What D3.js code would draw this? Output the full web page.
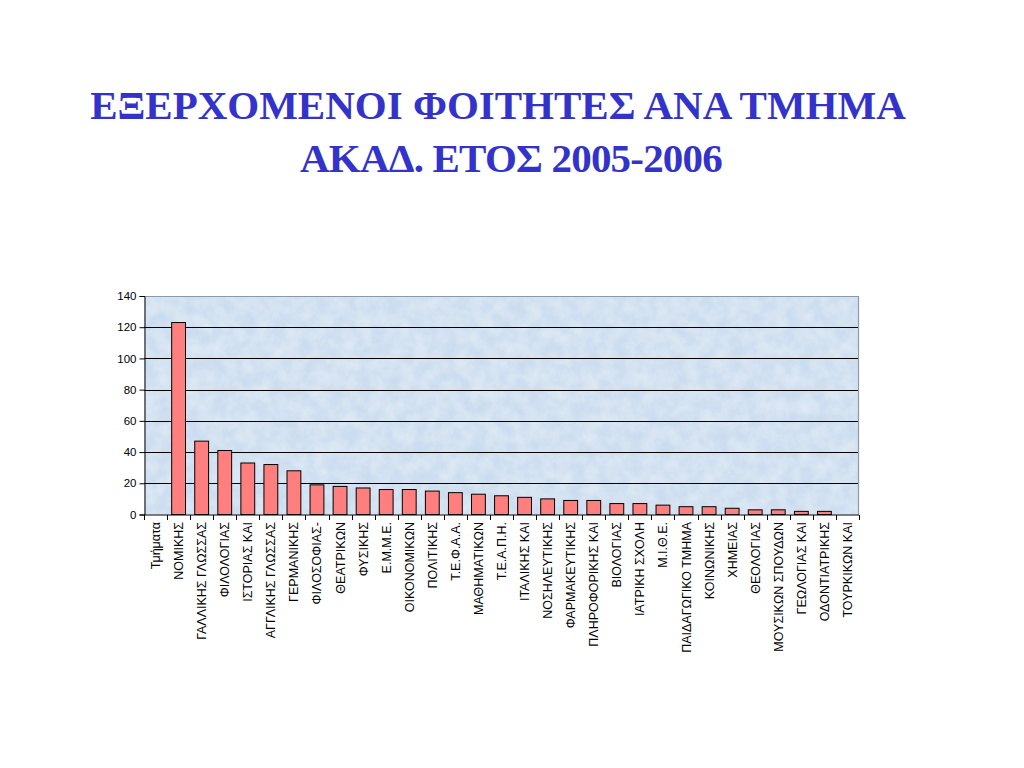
<!DOCTYPE html>
<html><head><meta charset="utf-8">
<script src="https://cdn.jsdelivr.net/npm/d3@7"></script>
<style>body{margin:0;background:#fff}svg{display:block}</style>
</head><body>
<svg id="c" width="1024" height="768"></svg>
<script>
const titleLines = ["ΕΞΕΡΧΟΜΕΝΟΙ ΦΟΙΤΗΤΕΣ ΑΝΑ ΤΜΗΜΑ", "ΑΚΑΔ. ΕΤΟΣ 2005-2006"];
const categories = ["Τμήματα","ΝΟΜΙΚΗΣ","ΓΑΛΛΙΚΗΣ ΓΛΩΣΣΑΣ","ΦΙΛΟΛΟΓΙΑΣ","ΙΣΤΟΡΙΑΣ ΚΑΙ","ΑΓΓΛΙΚΗΣ ΓΛΩΣΣΑΣ","ΓΕΡΜΑΝΙΚΗΣ","ΦΙΛΟΣΟΦΙΑΣ-","ΘΕΑΤΡΙΚΩΝ","ΦΥΣΙΚΗΣ","Ε.Μ.Μ.Ε.","ΟΙΚΟΝΟΜΙΚΩΝ","ΠΟΛΙΤΙΚΗΣ","Τ.Ε.Φ.Α.Α.","ΜΑΘΗΜΑΤΙΚΩΝ","Τ.Ε.Α.Π.Η.","ΙΤΑΛΙΚΗΣ ΚΑΙ","ΝΟΣΗΛΕΥΤΙΚΗΣ","ΦΑΡΜΑΚΕΥΤΙΚΗΣ","ΠΛΗΡΟΦΟΡΙΚΗΣ ΚΑΙ","ΒΙΟΛΟΓΙΑΣ","ΙΑΤΡΙΚΗ ΣΧΟΛΗ","Μ.Ι.Θ.Ε.","ΠΑΙΔΑΓΩΓΙΚΟ ΤΜΗΜΑ","ΚΟΙΝΩΝΙΚΗΣ","ΧΗΜΕΙΑΣ","ΘΕΟΛΟΓΙΑΣ","ΜΟΥΣΙΚΩΝ ΣΠΟΥΔΩΝ","ΓΕΩΛΟΓΙΑΣ ΚΑΙ","ΟΔΟΝΤΙΑΤΡΙΚΗΣ","ΤΟΥΡΚΙΚΩΝ ΚΑΙ"];
const values = [null,123,47,41,33,32,28,19,18,17,16,16,15,14,13,12,11,10,9,9,7,7,6,5,5,4,3,3,2,2,0];
const yTicks = [0,20,40,60,80,100,120,140];

const svg = d3.select("#c");
const m = {left:144, right:859, top:296, bottom:514.5};

const t = svg.append("g");
const titleX = [498, 511];
const titleSpacing = [0, -0.8];
titleLines.forEach((s,i)=>{
  t.append("text").attr("x",titleX[i]).attr("y",119+i*53).attr("text-anchor","middle")
   .attr("font-family","'Liberation Serif','Times New Roman',serif").attr("font-weight","bold")
   .attr("letter-spacing",titleSpacing[i])
   .attr("font-size",41).attr("fill","#3333cc").text(s);
});

const x = d3.scaleBand().domain(categories).range([m.left,m.right]).paddingInner(0.4).paddingOuter(0.2);
const xb = d3.scaleBand().domain(categories).range([m.left,m.right]);
const y = d3.scaleLinear().domain([0,140]).range([m.bottom,m.top]);

const defs = svg.append("defs");
const f = defs.append("filter").attr("id","tex").attr("x",0).attr("y",0).attr("width",1).attr("height",1);
f.append("feTurbulence").attr("type","fractalNoise").attr("baseFrequency",0.07).attr("numOctaves",3).attr("seed",3).attr("result","n");
f.append("feColorMatrix").attr("in","n").attr("type","matrix")
 .attr("values","0 0 0 0 1  0 0 0 0 1  0 0 0 0 1  0 0 0 0.5 -0.1").attr("result","w");
f.append("feComposite").attr("in","w").attr("in2","SourceGraphic").attr("operator","atop");

svg.append("rect").attr("x",m.left).attr("y",m.top).attr("width",m.right-m.left).attr("height",m.bottom-m.top)
  .attr("fill","#cadcef").attr("filter","url(#tex)");

// gridlines
svg.append("g").selectAll("line").data(yTicks.filter(d=>d>0 && d<140)).join("line")
  .attr("x1",m.left).attr("x2",m.right).attr("y1",d=>Math.round(y(d))+0.5).attr("y2",d=>Math.round(y(d))+0.5)
  .attr("stroke","#000").attr("stroke-width",1);

// top/right border
svg.append("path").attr("d",`M${m.left},${m.top+0.5}H${m.right-0.5}V${m.bottom}`).attr("fill","none").attr("stroke","#8c9aa8").attr("stroke-width",1.2);

// bars
svg.append("g").selectAll("rect").data(categories.map((c,i)=>({c,v:values[i]})).filter(d=>d.v!=null && d.v>0)).join("rect")
  .attr("x",d=>x(d.c)).attr("width",x.bandwidth())
  .attr("y",d=>y(d.v)).attr("height",d=>y(0)-y(d.v))
  .attr("fill","#ff7f7f").attr("stroke","#000").attr("stroke-width",1);

// y axis
const ya = svg.append("g").attr("transform",`translate(${m.left+0.5},0)`)
  .call(d3.axisLeft(y).tickValues(yTicks).tickSize(5).tickPadding(3));
ya.selectAll("text").attr("font-family","'Liberation Sans',Arial,sans-serif").attr("font-size",11.5).attr("fill","#000");
ya.selectAll("line,path").attr("stroke","#000");

// x axis
const xa = svg.append("g").attr("transform",`translate(0,${m.bottom+0.5})`);
xa.append("line").attr("x1",m.left).attr("x2",m.right).attr("stroke","#000");
xa.selectAll("line.t").data(categories.concat(["__end"])).join("line").attr("class","t")
  .attr("x1",(d,i)=>Math.round(m.left+i*xb.step())+0.5).attr("x2",(d,i)=>Math.round(m.left+i*xb.step())+0.5)
  .attr("y1",0).attr("y2",5).attr("stroke","#000");
xa.selectAll("text").data(categories).join("text")
  .attr("transform",d=>`translate(${xb(d)+xb.bandwidth()/2+4.5},7) rotate(-90)`)
  .attr("text-anchor","end").attr("font-family","'Liberation Sans',Arial,sans-serif").attr("font-size",12.5)
  .attr("fill","#000").text(d=>d);
</script>
</body></html>
